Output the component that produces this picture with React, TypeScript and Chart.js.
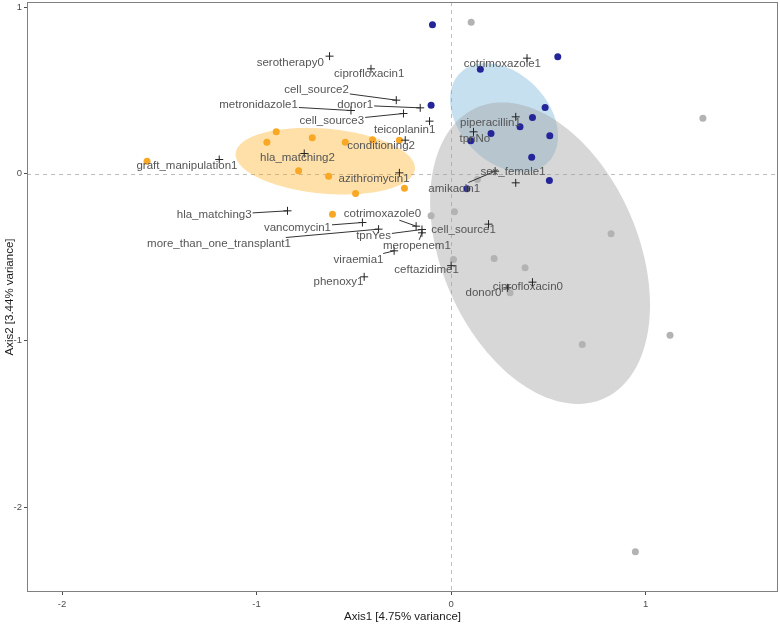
import React, { useEffect, useRef } from 'react';
import { Chart, registerables } from 'chart.js';

Chart.register(...registerables);

// ---- axis ticks ----
const xTickValues = [-2, -1, 0, 1];
const yTickValues = [-2, -1, 0, 1];
const xTitle = 'Axis1 [4.75% variance]';
const yTitle = 'Axis2 [3.44% variance]';

// ---- individuals (three groups) ----
const orangeX = [-1.563, -0.899, -0.947, -0.714, -0.544, -0.404, -0.266, -0.784, -0.63, -0.491, -0.24, -0.61];
const orangeY = [0.075, 0.251, 0.189, 0.215, 0.189, 0.203, 0.201, 0.017, -0.015, -0.119, -0.087, -0.243];

const blueX = [-0.096, 0.15, 0.548, -0.103, 0.483, 0.418, 0.354, 0.205, 0.101, 0.507, 0.414, 0.505, 0.081];
const blueY = [0.893, 0.627, 0.701, 0.411, 0.397, 0.337, 0.281, 0.241, 0.197, 0.227, 0.099, -0.041, -0.091];

const grayX = [0.103, 0.135, -0.103, 0.017, 0.822, 0.012, 0.221, 0.38, 0.303, 1.125, 0.674, 0.947, 1.294];
const grayY = [0.909, -0.035, -0.253, -0.229, -0.361, -0.515, -0.509, -0.565, -0.715, -0.969, -1.025, -2.269, 0.333];

// ---- variables (crosses) ----
const varNames = [
  'serotherapy0', 'ciprofloxacin1', 'cell_source2', 'donor1', 'metronidazole1', 'cell_source3',
  'teicoplanin1', 'conditioning2', 'hla_matching2', 'graft_manipulation1', 'azithromycin1',
  'hla_matching3', 'vancomycin1', 'cotrimoxazole0', 'more_than_one_transplant1', 'tpnYes',
  'meropenem1', 'viraemia1', 'phenoxy1', 'ceftazidime1', 'cell_source1', 'ciprofloxacin0',
  'donor0', 'cotrimoxazole1', 'piperacillin1', 'tpnNo', 'sex_female1', 'amikacin1',
];
const varX = [
  -0.625, -0.412, -0.282, -0.159, -0.515, -0.245,
  -0.111, -0.236, -0.755, -1.192, -0.266,
  -0.841, -0.456, -0.18, -0.373, -0.15,
  -0.15, -0.293, -0.447, 0.0, 0.192, 0.418,
  0.289, 0.39, 0.332, 0.115, 0.332, 0.226,
];
const varY = [
  0.705, 0.629, 0.441, 0.395, 0.379, 0.361,
  0.315, 0.201, 0.121, 0.085, 0.005,
  -0.223, -0.293, -0.315, -0.333, -0.335,
  -0.355, -0.463, -0.619, -0.552, -0.303, -0.651,
  -0.685, 0.693, 0.341, 0.251, -0.055, 0.015,
];

// repelled label anchors (data units) and whether a leader segment is drawn
const labelX = [
  -0.827, -0.421, -0.692, -0.493, -0.99, -0.613,
  -0.239, -0.36, -0.79, -1.358, -0.396,
  -1.218, -0.79, -0.353, -1.193, -0.399,
  -0.176, -0.476, -0.579, -0.126, 0.064, 0.394,
  0.166, 0.263, 0.202, 0.122, 0.318, 0.016,
];
const labelY = [
  0.665, 0.601, 0.505, 0.411, 0.411, 0.317,
  0.265, 0.165, 0.093, 0.045, -0.029,
  -0.249, -0.323, -0.243, -0.419, -0.373,
  -0.433, -0.515, -0.649, -0.579, -0.339, -0.679,
  -0.715, 0.661, 0.305, 0.209, 0.009, -0.089,
];
const labelSegment = [
  false, false, true, true, true, true,
  false, false, false, false, false,
  true, true, true, true, true,
  true, true, false, false, false, false,
  false, false, false, false, false, true,
];

// ---- confidence ellipses: centre and two semi-axis vectors (data units) ----
const ellipseNames = ['blue', 'gray', 'orange'];
const ellipseCX = [0.272, 0.457, -0.647];
const ellipseCY = [0.336, -0.477, 0.075];
const ellipseUX = [0.2245, 0.3252, 0.4605];
const ellipseUY = [-0.2697, -0.8737, -0.0471];
const ellipseVX = [0.1627, 0.4621, 0.01456];
const ellipseVY = [0.1849, 0.2346, 0.1942];
const ellipseFill: Record<string, string> = {
  blue: 'rgba(107,174,214,0.38)',
  gray: 'rgba(160,160,160,0.42)',
  orange: 'rgba(255,165,0,0.34)',
};

const LABEL_FONT = "11.5px 'Liberation Sans', Arial, sans-serif";
const TICK_FONT_FAMILY = "'Liberation Sans', Arial, sans-serif";

const backgroundPlugin = {
  id: 'bgLayers',
  beforeDatasetsDraw(chart: any) {
    const { ctx, chartArea, scales } = chart;
    const xs = scales.x;
    const ys = scales.y;
    ctx.save();
    ctx.beginPath();
    ctx.rect(chartArea.left, chartArea.top, chartArea.right - chartArea.left, chartArea.bottom - chartArea.top);
    ctx.clip();
    // dashed zero lines
    ctx.strokeStyle = '#bdbdbd';
    ctx.lineWidth = 1;
    ctx.setLineDash([4, 4]);
    const x0 = Math.round(xs.getPixelForValue(0)) + 0.5;
    const y0 = Math.round(ys.getPixelForValue(0)) + 0.5;
    ctx.beginPath();
    ctx.moveTo(x0, chartArea.top);
    ctx.lineTo(x0, chartArea.bottom);
    ctx.moveTo(chartArea.left, y0);
    ctx.lineTo(chartArea.right, y0);
    ctx.stroke();
    ctx.setLineDash([]);
    // ellipses
    ellipseNames.forEach((name, i) => {
      ctx.beginPath();
      const n = 180;
      for (let k = 0; k <= n; k++) {
        const t = (k / n) * Math.PI * 2;
        const dx = ellipseCX[i] + ellipseUX[i] * Math.cos(t) + ellipseVX[i] * Math.sin(t);
        const dy = ellipseCY[i] + ellipseUY[i] * Math.cos(t) + ellipseVY[i] * Math.sin(t);
        const px = xs.getPixelForValue(dx);
        const py = ys.getPixelForValue(dy);
        if (k === 0) ctx.moveTo(px, py);
        else ctx.lineTo(px, py);
      }
      ctx.closePath();
      ctx.fillStyle = ellipseFill[name];
      ctx.fill();
    });
    ctx.restore();
  },
  afterDraw(chart: any) {
    const { ctx, chartArea } = chart;
    ctx.save();
    ctx.strokeStyle = '#808080';
    ctx.lineWidth = 1;
    ctx.strokeRect(
      Math.round(chartArea.left) + 0.5,
      Math.round(chartArea.top) + 0.5,
      Math.round(chartArea.right - chartArea.left) - 1,
      Math.round(chartArea.bottom - chartArea.top) - 1
    );
    ctx.restore();
  },
};

const labelPlugin = {
  id: 'varLabels',
  afterDatasetsDraw(chart: any) {
    const { ctx, scales } = chart;
    const xs = scales.x;
    const ys = scales.y;
    ctx.save();
    ctx.font = LABEL_FONT;
    // segments
    ctx.strokeStyle = '#333333';
    ctx.lineWidth = 1;
    varNames.forEach((name, i) => {
      if (!labelSegment[i]) return;
      const px = xs.getPixelForValue(varX[i]);
      const py = ys.getPixelForValue(varY[i]);
      const lx = xs.getPixelForValue(labelX[i]);
      const ly = ys.getPixelForValue(labelY[i]);
      const hw = ctx.measureText(name).width / 2 + 1;
      const hh = 6;
      const dx = px - lx;
      const dy = py - ly;
      let s = 1;
      if (Math.abs(dx) > 0) s = Math.min(s, hw / Math.abs(dx));
      if (Math.abs(dy) > 0) s = Math.min(s, hh / Math.abs(dy));
      const sx = lx + dx * s;
      const sy = ly + dy * s;
      ctx.beginPath();
      ctx.moveTo(sx, sy);
      ctx.lineTo(px, py);
      ctx.stroke();
    });
    // texts
    ctx.fillStyle = '#555555';
    ctx.textAlign = 'center';
    ctx.textBaseline = 'middle';
    varNames.forEach((name, i) => {
      const lx = xs.getPixelForValue(labelX[i]);
      const ly = ys.getPixelForValue(labelY[i]);
      ctx.fillText(name, lx, ly);
    });
    ctx.restore();
  },
};

function toPoints(xs: number[], ys: number[]) {
  return xs.map((x, i) => ({ x, y: ys[i] }));
}

export default function App() {
  const canvasRef = useRef<HTMLCanvasElement | null>(null);

  useEffect(() => {
    if (!canvasRef.current) return;
    const chart = new Chart(canvasRef.current, {
      type: 'scatter',
      data: {
        datasets: [
          {
            label: 'variables',
            data: toPoints(varX, varY),
            pointStyle: 'cross',
            pointRadius: 4,
            borderColor: '#222222',
            backgroundColor: '#222222',
            borderWidth: 1,
            order: 0,
          },
          {
            label: 'navy',
            data: toPoints(blueX, blueY),
            pointRadius: 3.5,
            backgroundColor: '#25259a',
            borderWidth: 0,
            order: 1,
          },
          {
            label: 'orange',
            data: toPoints(orangeX, orangeY),
            pointRadius: 3.5,
            backgroundColor: '#f9a825',
            borderWidth: 0,
            order: 2,
          },
          {
            label: 'gray',
            data: toPoints(grayX, grayY),
            pointRadius: 3.5,
            backgroundColor: '#b3b3b3',
            borderWidth: 0,
            order: 3,
          },
        ],
      },
      options: {
        animation: false,
        responsive: false,
        devicePixelRatio: 1,
        layout: { autoPadding: false, padding: { top: 2, right: 2, left: 0, bottom: 0 } },
        plugins: {
          legend: { display: false },
          tooltip: { enabled: false },
        },
        scales: {
          x: {
            type: 'linear',
            min: -2.18,
            max: 1.68,
            afterBuildTicks: (scale: any) => {
              scale.ticks = xTickValues.map((v) => ({ value: v }));
            },
            afterFit: (scale: any) => {
              scale.height = 32;
              scale.paddingLeft = 0;
              scale.paddingRight = 0;
            },
            ticks: {
              color: '#4d4d4d',
              font: { size: 9.5, family: TICK_FONT_FAMILY },
              padding: 4,
              maxRotation: 0,
              callback: (v: any) => String(v),
            },
            grid: { drawOnChartArea: false, drawTicks: true, tickLength: 3, color: '#4d4d4d' },
            border: { display: false },
            title: {
              display: true,
              text: xTitle,
              color: '#1a1a1a',
              font: { size: 11.5, family: TICK_FONT_FAMILY },
              padding: { top: 0, bottom: 0 },
            },
          },
          y: {
            type: 'linear',
            min: -2.51,
            max: 1.03,
            afterBuildTicks: (scale: any) => {
              scale.ticks = yTickValues.map((v) => ({ value: v }));
            },
            afterFit: (scale: any) => {
              scale.width = 27;
              scale.paddingTop = 0;
              scale.paddingBottom = 0;
            },
            ticks: {
              color: '#4d4d4d',
              font: { size: 9.5, family: TICK_FONT_FAMILY },
              padding: 2,
              callback: (v: any) => String(v),
            },
            grid: { drawOnChartArea: false, drawTicks: true, tickLength: 3, color: '#4d4d4d' },
            border: { display: false },
            title: {
              display: true,
              text: yTitle,
              color: '#1a1a1a',
              font: { size: 11.5, family: TICK_FONT_FAMILY },
              padding: { top: 3, bottom: 0 },
            },
          },
        },
      } as any,
      plugins: [backgroundPlugin, labelPlugin],
    });
    return () => chart.destroy();
  }, []);

  return (
    <div style={{ position: 'fixed', left: 0, top: 0, width: 780, height: 624, background: '#ffffff' }}>
      <canvas ref={canvasRef} width={780} height={624} style={{ width: 780, height: 624 }} />
    </div>
  );
}
